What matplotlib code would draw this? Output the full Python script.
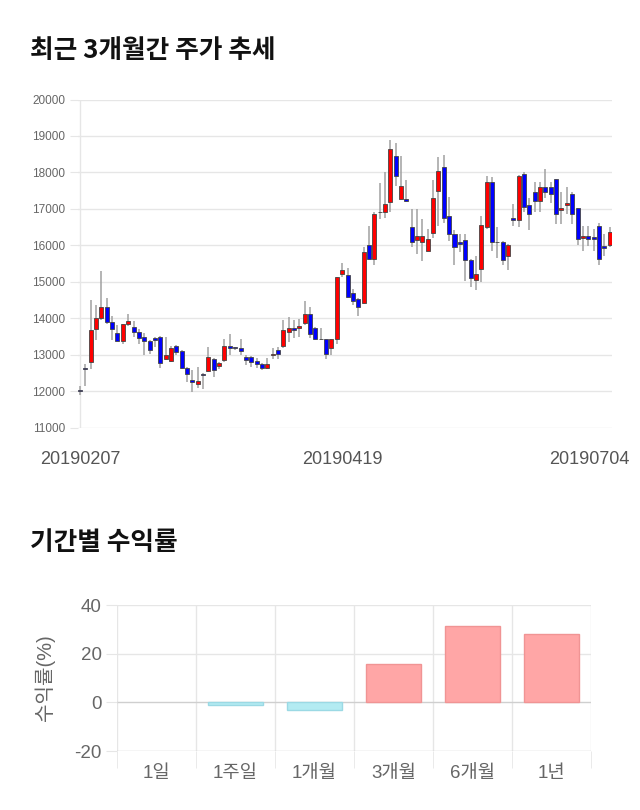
import numpy as np
import matplotlib.pyplot as plt
from matplotlib.transforms import ScaledTranslation

plt.rcParams['font.family'] = ['Liberation Sans', 'Noto Sans CJK KR']
plt.rcParams['axes.unicode_minus'] = False

# 일봉 데이터 (20190207 ~ 20190704)
opens = [12010, 12610, 12800, 13700, 14000, 14300, 13900, 13600, 13380, 13830,
         13770, 13620, 13470, 13380, 13450, 13470, 12870, 12830, 13240, 13100,
         12640, 12300, 12180, 12480, 12550, 12880, 12680, 12840, 13230, 13190,
         13180, 12940, 12940, 12830, 12730, 12630, 12980, 13140, 13230, 13620,
         13730, 13730, 13870, 14120, 13730, 13440, 13430, 13180, 13430, 15210,
         15180, 14680, 14530, 14420, 16020, 15620, 16900, 16910, 17200, 18450,
         17270, 17270, 16500, 16150, 16100, 15850, 16340, 17490, 18140, 16810,
         16310, 16090, 16150, 15600, 15050, 15340, 16500, 17740, 16100, 16090,
         15700, 16760, 16680, 17960, 17110, 17460, 17210, 17610, 17610, 17810,
         16960, 17110, 17410, 17010, 16210, 16260, 16230, 16520, 15970, 16000]
highs = [12150, 12750, 14500, 14350, 15300, 14550, 14050, 13800, 13850, 14120,
         13920, 13690, 13580, 13400, 13470, 13500, 13490, 13250, 13260, 13120,
         12650, 12570, 12660, 12500, 13210, 12900, 12810, 13440, 13570, 13200,
         13440, 13000, 12960, 12900, 12780, 12900, 13180, 13200, 13950, 14030,
         13950, 13980, 14460, 14300, 13750, 13720, 13440, 13440, 15130, 15510,
         15380, 14800, 14550, 15940, 16530, 16900, 17720, 18000, 18890, 18800,
         18450, 17800, 17000, 17000, 16710, 16440, 17800, 18430, 18490, 17330,
         16430, 16310, 16300, 15620, 15700, 16800, 17900, 17880, 16500, 16120,
         16030, 17130, 17920, 18000, 17300, 17740, 17740, 18100, 17740, 17830,
         17460, 17610, 17450, 17030, 16530, 16530, 16450, 16600, 16320, 16500]
lows = [11900, 12150, 12600, 13400, 13950, 13850, 13400, 13380, 13280, 13780,
        13470, 13300, 12980, 13030, 13200, 12640, 12840, 12800, 13000, 12600,
        12260, 11970, 12080, 12050, 12520, 12380, 12600, 12810, 13000, 13120,
        13000, 12710, 12650, 12640, 12580, 12600, 12880, 12880, 13180, 13350,
        13460, 13470, 13800, 13460, 13400, 13400, 12880, 12980, 13300, 15120,
        14550, 14350, 14070, 14400, 15600, 15460, 16710, 16750, 16920, 17640,
        17250, 17200, 15940, 15760, 15580, 15830, 16190, 16520, 16600, 16110,
        15470, 15820, 15020, 14860, 14770, 15000, 16450, 15850, 15650, 15470,
        15310, 16520, 16500, 16900, 16430, 16920, 16920, 17300, 17170, 16580,
        16580, 16870, 16580, 16000, 15850, 15970, 15850, 15460, 15700, 15950]
closes = [12000, 12600, 13680, 14000, 14300, 13900, 13700, 13380, 13830, 13920,
          13620, 13460, 13370, 13120, 13390, 12780, 12980, 13190, 13070, 12640,
          12480, 12240, 12280, 12430, 12940, 12580, 12780, 13230, 13170, 13180,
          13110, 12840, 12790, 12730, 12630, 12730, 13010, 13030, 13680, 13730,
          13680, 13790, 14120, 13570, 13440, 13420, 13030, 13430, 15120, 15320,
          14570, 14470, 14320, 15820, 15620, 16860, 16920, 17120, 18640, 17910,
          17640, 17220, 16100, 16260, 16260, 16170, 17300, 18040, 16750, 16310,
          15950, 16040, 15600, 15100, 15210, 16550, 17740, 16090, 16080, 15600,
          16010, 16700, 17900, 17050, 16870, 17210, 17610, 17460, 17410, 16870,
          17010, 17170, 16870, 16170, 16260, 16170, 16170, 15630, 15920, 16370]
date_labels = ['20190207', '20190419', '20190704']

# 기간별 수익률
periods = ['1일', '1주일', '1개월', '3개월', '6개월', '1년']
returns = [0.0, -1.2, -3.3, 15.8, 31.2, 28.1]

fig = plt.figure(figsize=(6.4, 8.1), dpi=100)

# 주가 추세 (캔들)
fig.text(30 / 640, 1 - 50 / 810, '최근 3개월간 주가 추세', fontsize=18.5, fontweight='bold',
         ha='left', va='center', color='#111111', family=['Noto Sans CJK KR'])

ax1 = fig.add_axes([77.9 / 640, 1 - 427.5 / 810, 534.4 / 640, 328 / 810])
n = len(opens)
x = np.arange(n)
o = np.array(opens)
c = np.array(closes)
up = c >= o
colors = np.where(up, '#ff0000', '#0000ff')
bottoms = np.minimum(o, c)
heights = np.maximum(np.abs(c - o), 20)

ax1.vlines(x, lows, highs, color='#a0a0a0', lw=1.1, zorder=2)
ax1.bar(x, heights, bottom=bottoms, width=0.75, color=colors,
        edgecolor='#444444', linewidth=0.6, zorder=3)

ax1.set_xlim(-0.4, n - 0.5)
ax1.set_ylim(11000, 20000)
ax1.set_yticks(range(11000, 20001, 1000))
ax1.grid(axis='y', color='#e6e6e6', lw=1, zorder=0)
ax1.axvline(0, color='#e6e6e6', lw=1, zorder=1)
for s in ax1.spines.values():
    s.set_visible(False)
ax1.tick_params(axis='y', length=6, color='#e6e6e6', labelsize=8.5, labelcolor='#666666', pad=3)
ax1.set_xticks([0, n // 2 - 1, n - 1])
ax1.set_xticklabels(date_labels)
ax1.tick_params(axis='x', length=0, labelsize=13, labelcolor='#555555', pad=17)
last = ax1.get_xticklabels()[-1]
last.set_transform(last.get_transform() + ScaledTranslation(-0.2, 0, fig.dpi_scale_trans))

# 기간별 수익률 (막대)
fig.text(30 / 640, 1 - 543 / 810, '기간별 수익률', fontsize=18.5, fontweight='bold',
         ha='left', va='center', color='#111111', family=['Noto Sans CJK KR'])

ax2 = fig.add_axes([117 / 640, 1 - 751 / 810, 474 / 640, 146 / 810])
px = np.arange(len(periods))
r = np.array(returns)
fill = np.where(r >= 0, '#ffa6a6', '#b3ebf2')
edge = np.where(r >= 0, '#f09494', '#9bd9e4')
lw = np.where(r == 0, 0, 1)
ax2.bar(px, r, width=0.7, color=fill, edgecolor=edge, linewidth=lw, zorder=3)

ax2.set_xlim(-0.5, len(periods) - 0.5)
ax2.set_ylim(-20, 40)
ax2.set_yticks([-20, 0, 20, 40])
for yv in [-20, 0, 20, 40]:
    ax2.axhline(yv, color='#cfcfcf' if yv in (-20, 0) else '#e6e6e6', lw=1, zorder=1)
bounds = np.arange(len(periods) + 1) - 0.5
ax2.vlines(bounds, -20, 40, color='#e6e6e6', lw=1, zorder=0)
ax2.set_xticks(px)
ax2.set_xticklabels(periods)
ax2.set_xticks(bounds, minor=True)
for s in ax2.spines.values():
    s.set_visible(False)
ax2.tick_params(axis='x', which='major', length=0, labelsize=13.5, labelcolor='#666666', pad=10)
ax2.tick_params(axis='x', which='minor', length=12, color='#e6e6e6')
ax2.tick_params(axis='y', length=8, color='#e6e6e6', labelsize=13.5, labelcolor='#666666', pad=3)
fig.text(45 / 640, 1 - 678 / 810, '수익률(%)', rotation=90, fontsize=14.5, color='#666666',
         ha='center', va='center')

fig.savefig('out.png', dpi=100)
